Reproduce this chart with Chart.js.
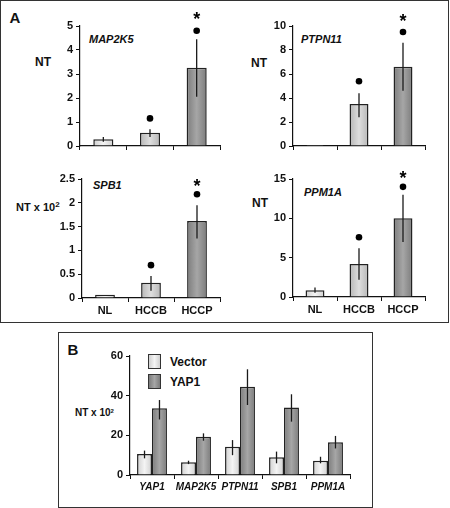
<!DOCTYPE html>
<html>
<head>
<meta charset="utf-8">
<script src="https://cdn.jsdelivr.net/npm/chart.js@4"></script>
<style>
  body { margin: 0; background: #fff; }
  #page { position: relative; width: 450px; height: 508px; overflow: hidden;
          font-family: "Liberation Sans", Arial, sans-serif; }
  .box { position: absolute; border: 1.5px solid #333; box-sizing: border-box; }
  canvas { position: absolute; }
  .t { position: absolute; font-weight: bold; color: #111; white-space: nowrap; line-height: 1; }
  .c { transform: translate(-50%, -50%); }
  .l { transform: translate(0, -50%); }
  .gene { font-style: italic; font-size: 11px; }
  sup { vertical-align: 0; position: relative; top: -0.45em; }
  .sw { position: absolute; border: 1.2px solid #333; box-sizing: border-box; }
</style>
</head>
<body>
<div id="page">
  <div class="box" style="left:0;top:0;width:449px;height:323px"></div>
  <div class="box" style="left:58px;top:332px;width:315px;height:176px"></div>

  <div class="t c" style="left:15px;top:17px;font-size:15px">A</div>
  <div class="t c" style="left:43px;top:62px;font-size:12px">NT</div>
  <div class="t l gene" style="left:89px;top:39px">MAP2K5</div>
  <div class="t c" style="left:259px;top:63px;font-size:12px">NT</div>
  <div class="t l gene" style="left:301px;top:39px">PTPN11</div>
  <div class="t l" style="left:16px;top:207px;font-size:11px">NT x 10<sup style="font-size:8px">2</sup></div>
  <div class="t l gene" style="left:93px;top:185px">SPB1</div>
  <div class="t c" style="left:260px;top:203px;font-size:12px">NT</div>
  <div class="t l gene" style="left:304px;top:192px">PPM1A</div>

  <div class="t c" style="left:73px;top:349px;font-size:15px">B</div>
  <div class="t l" style="left:75px;top:413px;font-size:10px">NT x 10<sup style="font-size:6px">2</sup></div>
  <div class="sw" style="left:148px;top:354px;width:13px;height:15px;background:linear-gradient(90deg,#d0d0d0,#f4f4f4,#d0d0d0)"></div>
  <div class="sw" style="left:148px;top:374px;width:13px;height:15px;background:linear-gradient(90deg,#7c7c7c,#a6a6a6,#7c7c7c)"></div>
  <div class="t l" style="left:170px;top:362px;font-size:12px">Vector</div>
  <div class="t l" style="left:170px;top:382px;font-size:12px">YAP1</div>

  <canvas id="cMap"></canvas>
  <canvas id="cPtpn"></canvas>
  <canvas id="cSpb"></canvas>
  <canvas id="cPpm"></canvas>
  <canvas id="cB"></canvas>
</div>

<script>
// --- Data ---
const groupsA = ['NL', 'HCCB', 'HCCP'];

const map2k5 = [0.28, 0.55, 3.26];
const map2k5Lo = [0.18, 0.38, 2.05];
const map2k5Hi = [0.38, 0.7, 4.45];
const map2k5Dots = [null, 1.15, 4.8];
const map2k5Stars = [null, null, 5.4];

const ptpn11 = [0.08, 3.5, 6.6];
const ptpn11Lo = [null, 2.4, 4.6];
const ptpn11Hi = [null, 4.4, 8.6];
const ptpn11Dots = [null, 5.4, 9.5];
const ptpn11Stars = [null, null, 10.7];

const spb1 = [0.07, 0.32, 1.62];
const spb1Lo = [null, 0.15, 1.25];
const spb1Hi = [null, 0.46, 1.95];
const spb1Dots = [null, 0.69, 2.18];
const spb1Stars = [null, null, 2.42];

const ppm1a = [0.85, 4.2, 10];
const ppm1aLo = [0.55, 2.2, 7];
const ppm1aHi = [1.2, 6.2, 13];
const ppm1aDots = [null, 7.6, 14];
const ppm1aStars = [null, null, 15.5];

const genesB = ['YAP1', 'MAP2K5', 'PTPN11', 'SPB1', 'PPM1A'];
const vector = [10.6, 6.4, 14.3, 8.9, 7.2];
const vectorLo = [8.4, 5.5, 10, 5.9, 5.9];
const vectorHi = [12.3, 7.2, 17.6, 11.8, 9.2];
const yap1 = [33.6, 19.3, 44.5, 34, 16.5];
const yap1Lo = [28, 17.3, 35.3, 26.9, 13.4];
const yap1Hi = [37.8, 21, 53.3, 40.7, 19.7];

// --- Styling ---
const FONT = '"Liberation Sans", Arial, sans-serif';
Chart.defaults.font.family = FONT;
Chart.defaults.color = '#111';

const shades = {
  light: ['#d0d0d0', '#f4f4f4'],
  mid: ['#b6b6b6', '#dedede'],
  dark: ['#7c7c7c', '#a6a6a6']
};

// horizontal gradient per bar, computed from the category scale
function barFill(shadeList, catPct, barPct) {
  return (ctx) => {
    const chart = ctx.chart;
    const x = chart.scales.x;
    const s = shadeList[ctx.datasetIndex];
    const shade = shades[Array.isArray(s) ? s[ctx.dataIndex] : s];
    if (!x || !chart.chartArea) return shade[0];
    const n = chart.data.datasets.length;
    const catW = x.width / chart.data.labels.length;
    const groupW = catW * catPct;
    const slot = groupW / n;
    const barW = slot * barPct;
    const left = x.getPixelForValue(ctx.dataIndex) - groupW / 2 + ctx.datasetIndex * slot + (slot - barW) / 2;
    const g = chart.ctx.createLinearGradient(left, 0, left + barW, 0);
    g.addColorStop(0, shade[0]);
    g.addColorStop(0.5, shade[1]);
    g.addColorStop(1, shade[0]);
    return g;
  };
}

// error bars, significance dots and stars
const markerPlugin = {
  id: 'markers',
  afterDatasetsDraw(chart, args, opts) {
    const { ctx } = chart;
    const xs = chart.scales.x, ys = chart.scales.y;
    ctx.save();
    ctx.strokeStyle = '#1a1a1a';
    ctx.lineWidth = 1.3;
    chart.data.datasets.forEach((ds, di) => {
      if (!ds.errLo) return;
      chart.getDatasetMeta(di).data.forEach((bar, i) => {
        if (ds.errLo[i] == null) return;
        ctx.beginPath();
        ctx.moveTo(bar.x, ys.getPixelForValue(ds.errLo[i]));
        ctx.lineTo(bar.x, ys.getPixelForValue(ds.errHi[i]));
        ctx.stroke();
      });
    });
    ctx.fillStyle = '#000';
    (opts.dots || []).forEach((v, i) => {
      if (v == null) return;
      ctx.beginPath();
      ctx.arc(xs.getPixelForValue(i), ys.getPixelForValue(v), 3.3, 0, Math.PI * 2);
      ctx.fill();
    });
    ctx.font = 'bold 18px "Liberation Sans", sans-serif';
    ctx.textAlign = 'center';
    ctx.textBaseline = 'middle';
    (opts.stars || []).forEach((v, i) => {
      if (v == null) return;
      ctx.fillText('*', xs.getPixelForValue(i), ys.getPixelForValue(v) + 4);
    });
    ctx.restore();
  }
};

const ML = 40, MT = 22, MR = 8, MB = 22;

function makeChart(id, area, cfg) {
  const cv = document.getElementById(id);
  cv.width = area.right - area.left + ML + MR;
  cv.height = area.bottom - area.top + MT + MB;
  cv.style.left = (area.left - ML) + 'px';
  cv.style.top = (area.top - MT) + 'px';
  const catPct = cfg.catPct, barPct = cfg.barPct;
  return new Chart(cv, {
    type: 'bar',
    data: {
      labels: cfg.labels,
      datasets: cfg.series.map((s) => ({
        data: s.data,
        errLo: s.lo,
        errHi: s.hi,
        backgroundColor: barFill(cfg.series.map(z => z.shade), catPct, barPct),
        borderColor: '#222',
        borderWidth: 1.5,
        categoryPercentage: catPct,
        barPercentage: barPct
      }))
    },
    options: {
      responsive: false,
      animation: false,
      layout: { padding: { top: MT, right: MR, left: 0, bottom: 0 } },
      plugins: {
        legend: { display: false },
        tooltip: { enabled: false },
        markers: { dots: cfg.dots, stars: cfg.stars }
      },
      scales: {
        x: {
          afterFit: (s) => { s.height = MB; },
          border: { color: '#111', width: 1.2 },
          grid: { drawOnChartArea: false, color: '#111', tickLength: 4, offset: true },
          ticks: {
            display: cfg.showLabels,
            font: { size: cfg.xFontSize || 11, weight: 'bold', style: cfg.xItalic ? 'italic' : 'normal' },
            color: '#111',
            padding: 2,
            maxRotation: 0,
            autoSkip: false
          }
        },
        y: {
          min: 0,
          max: cfg.max,
          afterFit: (s) => { s.width = ML; },
          border: { color: '#111', width: 1.2 },
          grid: { drawOnChartArea: false, color: '#111', tickLength: 4 },
          ticks: {
            stepSize: cfg.step,
            autoSkip: false,
            callback: (v) => String(Math.round(v * 100) / 100),
            font: { size: 11, weight: 'bold' },
            color: '#111',
            padding: 3
          }
        }
      }
    },
    plugins: [markerPlugin]
  });
}

const shadeA = ['light', 'mid', 'dark'];
const rowA = { labels: groupsA, catPct: 1, barPct: 0.43 };

makeChart('cMap', { left: 80, right: 220, top: 26, bottom: 146 }, Object.assign({}, rowA, {
  showLabels: false, max: 5, step: 1, dots: map2k5Dots, stars: map2k5Stars,
  series: [{ data: map2k5, lo: map2k5Lo, hi: map2k5Hi, shade: shadeA }]
}));

makeChart('cPtpn', { left: 293, right: 425, top: 26, bottom: 146 }, Object.assign({}, rowA, {
  showLabels: false, max: 10, step: 2, dots: ptpn11Dots, stars: ptpn11Stars,
  series: [{ data: ptpn11, lo: ptpn11Lo, hi: ptpn11Hi, shade: shadeA }]
}));

makeChart('cSpb', { left: 82, right: 220, top: 179, bottom: 298 }, Object.assign({}, rowA, {
  showLabels: true, max: 2.5, step: 0.5, dots: spb1Dots, stars: spb1Stars,
  series: [{ data: spb1, lo: spb1Lo, hi: spb1Hi, shade: shadeA }]
}));

makeChart('cPpm', { left: 293, right: 425, top: 179, bottom: 297 }, Object.assign({}, rowA, {
  showLabels: true, max: 15, step: 5, dots: ppm1aDots, stars: ppm1aStars,
  series: [{ data: ppm1a, lo: ppm1aLo, hi: ppm1aHi, shade: shadeA }]
}));

makeChart('cB', { left: 130, right: 350, top: 356, bottom: 475 }, {
  labels: genesB, catPct: 0.68, barPct: 1, showLabels: true, xItalic: true, xFontSize: 10,
  max: 60, step: 20,
  series: [
    { data: vector, lo: vectorLo, hi: vectorHi, shade: 'light' },
    { data: yap1, lo: yap1Lo, hi: yap1Hi, shade: 'dark' }
  ]
});
</script>
</body>
</html>
